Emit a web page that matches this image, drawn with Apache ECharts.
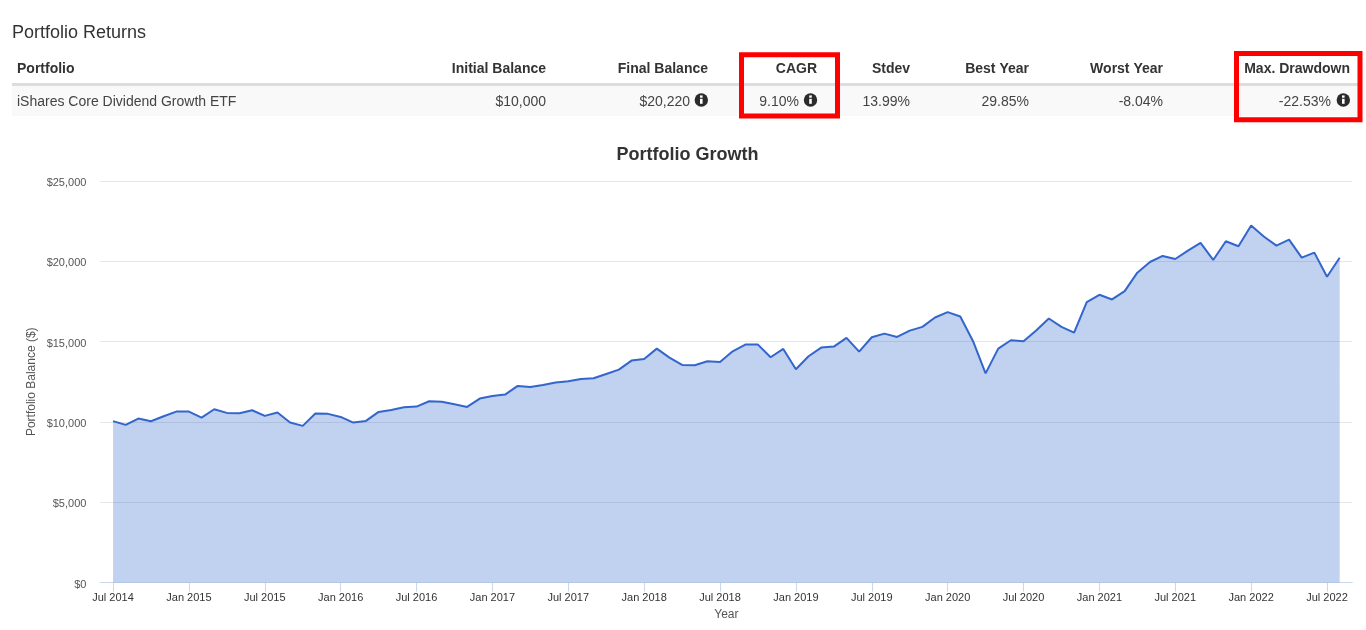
<!DOCTYPE html>
<html><head><meta charset="utf-8">
<style>html,body{margin:0;padding:0;background:#fff}#c{width:1366px;height:630px}</style>
<script src="https://cdn.jsdelivr.net/npm/echarts@6/dist/echarts.min.js"></script>
</head><body><div id="c"></div>
<script>
const months = [
"Jul 2014","Aug 2014","Sep 2014","Oct 2014","Nov 2014","Dec 2014",
"Jan 2015","Feb 2015","Mar 2015","Apr 2015","May 2015","Jun 2015",
"Jul 2015","Aug 2015","Sep 2015","Oct 2015","Nov 2015","Dec 2015",
"Jan 2016","Feb 2016","Mar 2016","Apr 2016","May 2016","Jun 2016",
"Jul 2016","Aug 2016","Sep 2016","Oct 2016","Nov 2016","Dec 2016",
"Jan 2017","Feb 2017","Mar 2017","Apr 2017","May 2017","Jun 2017",
"Jul 2017","Aug 2017","Sep 2017","Oct 2017","Nov 2017","Dec 2017",
"Jan 2018","Feb 2018","Mar 2018","Apr 2018","May 2018","Jun 2018",
"Jul 2018","Aug 2018","Sep 2018","Oct 2018","Nov 2018","Dec 2018",
"Jan 2019","Feb 2019","Mar 2019","Apr 2019","May 2019","Jun 2019",
"Jul 2019","Aug 2019","Sep 2019","Oct 2019","Nov 2019","Dec 2019",
"Jan 2020","Feb 2020","Mar 2020","Apr 2020","May 2020","Jun 2020",
"Jul 2020","Aug 2020","Sep 2020","Oct 2020","Nov 2020","Dec 2020",
"Jan 2021","Feb 2021","Mar 2021","Apr 2021","May 2021","Jun 2021",
"Jul 2021","Aug 2021","Sep 2021","Oct 2021","Nov 2021","Dec 2021",
"Jan 2022","Feb 2022","Mar 2022","Apr 2022","May 2022","Jun 2022",
"Jul 2022","Aug 2022"];
const balances = [
10050,9813,10208,10042,10353,10640,10640,10270,10790,10560,10540,10727,
10374,10581,9958,9751,10519,10500,10311,9958,10062,10623,10747,10913,
10955,11287,11260,11100,10934,11453,11619,11700,12239,12177,12301,12447,
12530,12675,12716,12986,13256,13817,13920,14564,14004,13547,13526,13775,
13734,14398,14813,14813,14024,14543,13277,14087,14626,14689,15228,14377,
15270,15498,15291,15685,15917,16500,16833,16562,15042,13021,14563,15083,
15021,15687,16437,15917,15562,17458,17916,17625,18145,19291,19958,20333,
20145,20666,21145,20083,21249,20937,22228,21541,20978,21353,20228,20541,
19041,20220];
const tableTitle = "Portfolio Returns";
const tableHeaders = ["Portfolio","Initial Balance","Final Balance","CAGR","Stdev","Best Year","Worst Year","Max. Drawdown"];
const tableRow = ["iShares Core Dividend Growth ETF","$10,000","$20,220","9.10%","13.99%","29.85%","-8.04%","-22.53%"];
const chartTitle = "Portfolio Growth";
const yAxisTitle = "Portfolio Balance ($)";
const xAxisTitle = "Year";

const FONT = '"Liberation Sans", Arial, sans-serif';
const headerRight = [null,546,708,817,910,1029,1163,1350];
const rowRight    = [null,546,690,799,910,1029,1163,1331];
const iconAt = {2:701.3,3:810.5,7:1343.3};
const g = [];
function text(t,x,y,size,weight,fill,align){
  g.push({type:'text',silent:true,z:10,style:{text:t,x:x,y:y,font:(weight?weight+' ':'')+size+'px '+FONT,fill:fill,align:align,verticalAlign:'middle'}});
}
g.push({type:'rect',silent:true,z:1,shape:{x:12,y:86,width:1350,height:30},style:{fill:'#f9f9f9'}});
g.push({type:'rect',silent:true,z:1,shape:{x:12,y:83,width:1350,height:3},style:{fill:'#dddddd'}});
text(tableTitle,12,33,18,'', '#333333','left');
tableHeaders.forEach((h,i)=>{ i===0 ? text(h,17,69,14,'bold','#333333','left') : text(h,headerRight[i],69,14,'bold','#333333','right'); });
tableRow.forEach((v,i)=>{ i===0 ? text(v,17,102,14,'','#444444','left') : text(v,rowRight[i],102,14,'','#444444','right'); });
Object.keys(iconAt).forEach(k=>{
  const cx=iconAt[k], cy=100;
  g.push({type:'circle',silent:true,z:10,shape:{cx:cx,cy:cy,r:6.7},style:{fill:'#2b2b2b'}});
  g.push({type:'rect',silent:true,z:11,shape:{x:cx-1.3,y:cy-4.6,width:2.6,height:2.3},style:{fill:'#ffffff'}});
  g.push({type:'rect',silent:true,z:11,shape:{x:cx-1.3,y:cy-1.2,width:2.6,height:5},style:{fill:'#ffffff'}});
});
g.push({type:'rect',silent:true,z:12,shape:{x:741.5,y:54.8,width:96,height:61.2},style:{fill:'none',stroke:'#ff0000',lineWidth:5}});
g.push({type:'rect',silent:true,z:12,shape:{x:1236.5,y:53.5,width:123.5,height:66.3},style:{fill:'none',stroke:'#ff0000',lineWidth:5}});

const showIdx = (i)=> i>=1 && i<=months.length && (i-1)%6===0;
const chart = echarts.init(document.getElementById('c'),null,{renderer:'canvas',width:1366,height:630});
chart.setOption({
  animation:false,
  backgroundColor:'#ffffff',
  title:{text:chartTitle,left:682.5,top:141,textAlign:'center',textStyle:{fontFamily:FONT,fontSize:18,fontWeight:'bold',color:'#333333'}},
  grid:{left:100.4,right:13.7,top:181,bottom:47.5,containLabel:false},
  xAxis:{type:'category',boundaryGap:false,data:[''].concat(months,['']),
    name:xAxisTitle,nameLocation:'middle',nameGap:26,nameTextStyle:{fontFamily:FONT,fontSize:12,color:'#555555'},
    axisLine:{lineStyle:{color:'#ccd6eb',width:1}},
    axisTick:{length:9,alignWithLabel:true,interval:(i)=>showIdx(i),lineStyle:{color:'#ccd6eb',width:1}},
    axisLabel:{interval:(i)=>showIdx(i),hideOverlap:false,fontFamily:FONT,fontSize:11,color:'#333333',margin:10},
    splitLine:{show:false}},
  yAxis:{type:'value',min:0,max:25000,interval:5000,
    name:yAxisTitle,nameLocation:'middle',nameGap:63,nameMoveOverlap:false,nameRotate:90,nameTextStyle:{fontFamily:FONT,fontSize:12,color:'#555555'},
    axisLine:{show:false},axisTick:{show:false},
    axisLabel:{formatter:(v)=>'{a|$'+v.toLocaleString('en-US')+'}',margin:14,
      rich:{a:{fontFamily:FONT,fontSize:11,color:'#555555',padding:[4,0,0,0]}}},
    splitLine:{lineStyle:{color:'#e6e6e6',width:1}}},
  series:[{type:'line',name:'Portfolio',data:[null].concat(balances,[null]),showSymbol:false,symbol:'none',
    connectNulls:false,smooth:false,z:3,
    lineStyle:{color:'#3366cc',width:2},
    areaStyle:{color:'#3366cc',opacity:0.3}}],
  graphic:g
});
</script></body></html>
